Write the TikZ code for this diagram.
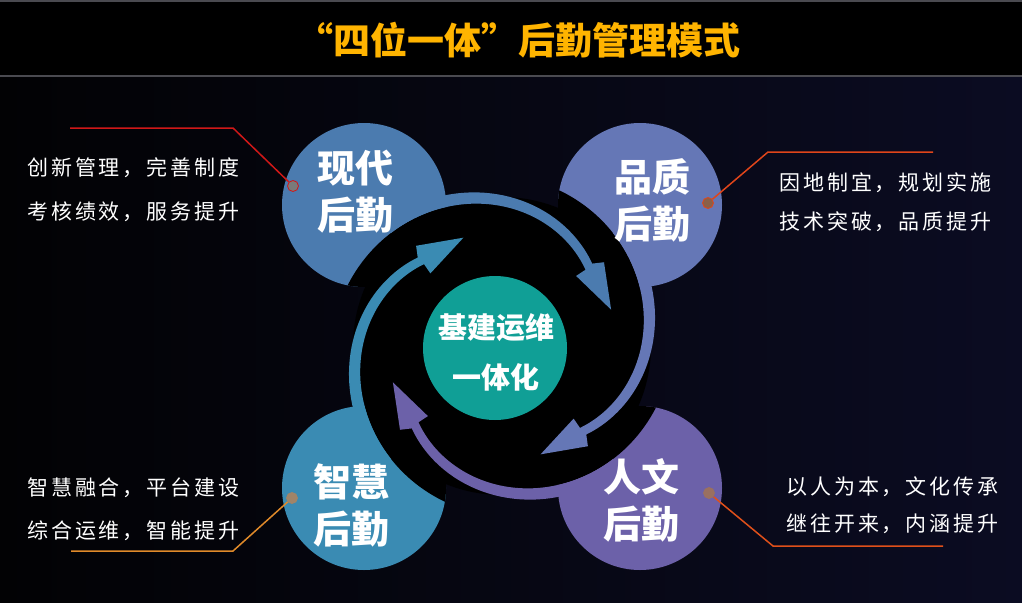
\documentclass[tikz,border=0pt]{standalone}
\usepackage{fontspec}
\newfontfamily\cjk{Noto Sans CJK SC}
\newfontfamily\cjkl{Noto Sans CJK SC}[LetterSpace=14]
\definecolor{bgl}{HTML}{020204}
\definecolor{bgr}{HTML}{0B0C22}
\definecolor{lineg}{HTML}{4A4A50}
\definecolor{ctitle}{HTML}{FFB400}
\definecolor{cxd}{HTML}{4B7BAF}
\definecolor{cpz}{HTML}{6577B6}
\definecolor{czh}{HTML}{3A8BB3}
\definecolor{crw}{HTML}{6C61A9}
\definecolor{cteal}{HTML}{109F96}
\definecolor{lxd}{HTML}{D01818}
\definecolor{lpz}{HTML}{E0451A}
\definecolor{lzh}{HTML}{E08A2A}
\definecolor{lrw}{HTML}{E0501A}
\definecolor{dxd}{HTML}{7A7A7A}
\definecolor{dpz}{HTML}{8A6048}
\definecolor{dzh}{HTML}{A08468}
\definecolor{drw}{HTML}{9A7060}
\newcommand\rin[1]{(158.4-0.348*(#1)-0.00157*(#1)*(#1))}
\newcommand\rout[1]{(\rin{#1}+12.8-0.04*(#1))}
\newcommand\armbite[1]{\fill[black] (502,346) -- plot[domain=-46:46,samples=50,variable=\p] ({502+\rin{\p}*cos((#1)-(\p))},{346-\rin{\p}*sin((#1)-(\p))}) -- cycle;}
\newcommand\armband[2]{\fill[#2] plot[domain=0:92,samples=50,variable=\p] ({502+\rout{\p}*cos((#1)-(\p))},{346-\rout{\p}*sin((#1)-(\p))})
 -- ({502+132*cos((#1)-95)},{346-132*sin((#1)-95)})
 -- ({502+115*cos((#1)-116)},{346-115*sin((#1)-116)})
 -- ({502+102*cos((#1)-91)},{346-102*sin((#1)-91)})
 -- plot[domain=92:0,samples=50,variable=\p] ({502+\rin{\p}*cos((#1)-(\p))},{346-\rin{\p}*sin((#1)-(\p))}) -- cycle;}
\tikzset{
 bubble/.style={circle, inner sep=0pt, minimum size=164pt},
 lab/.style={font=\cjk\bfseries\fontsize{38}{47}\selectfont, text=white, align=center, inner sep=0pt},
 desc/.style={font=\cjkl\fontsize{21}{24}\selectfont, text=white, anchor=west, inner sep=0pt},
 dot/.style={circle, inner sep=0pt, minimum size=11pt, line width=0.8pt},
 leader/.style={line width=1.5pt}
}
\begin{document}
\begin{tikzpicture}[x=1pt,y=-1pt]
\useasboundingbox (0,0) rectangle (1022,602);
\shade[left color=bgl, right color=bgr] (0,0) rectangle (1022,602);
\fill[black] (0,0) rectangle (1022,76);
\draw[lineg, line width=2pt] (0,1) -- (1022,1);
\draw[lineg, line width=2pt] (0,76) -- (1022,76);
\node[font=\cjk\bfseries\fontsize{37}{40}\selectfont, text=ctitle, inner sep=0pt] (title) at (518,40) {“四位一体”后勤管理模式};
% bubbles
\node[bubble, fill=cxd] (xd) at (364,205) {};
\node[bubble, fill=cpz] (pz) at (640,205) {};
\node[bubble, fill=czh] (zh) at (364,488) {};
\node[bubble, fill=crw] (rw) at (640,488) {};
% bites
\begin{scope}
\clip (364,205) circle[radius=82pt] (640,205) circle[radius=82pt]
      (364,488) circle[radius=82pt] (640,488) circle[radius=82pt]
      (502,346) circle[radius=149pt];
\armbite{134.4}
\armbite{45.6}
\armbite{-45.6}
\armbite{-134.4}
\end{scope}
% arrows
\armband{134.4}{cxd}
\armband{45.6}{cpz}
\armband{-45.6}{crw}
\armband{-134.4}{czh}
% core
\node[circle, inner sep=0pt, minimum size=144pt, fill=cteal] (core) at (495,348) {};
\node[font=\cjk\bfseries\fontsize{29}{50}\selectfont, text=white, align=center, inner sep=0pt] (coret) at (496,352) {基建运维\\一体化};
% labels
\node[lab] (xdt) at (355,191.5) {现代\\后勤};
\node[lab] (pzt) at (652,200.5) {品质\\后勤};
\node[lab] (zht) at (351,505) {智慧\\后勤};
\node[lab] (rwt) at (641,500.5) {人文\\后勤};
% descriptions
\node[desc] (d1a) at (27,168) {创新管理，完善制度};
\node[desc] (d1b) at (27,212) {考核绩效，服务提升};
\node[desc] (d2a) at (779,183) {因地制宜，规划实施};
\node[desc] (d2b) at (779,222) {技术突破，品质提升};
\node[desc] (d3a) at (27,488) {智慧融合，平台建设};
\node[desc] (d3b) at (27,531) {综合运维，智能提升};
\node[desc] (d4a) at (786,487) {以人为本，文化传承};
\node[desc] (d4b) at (786,524) {继往开来，内涵提升};
% leaders
\node[dot, fill=dxd, draw=lxd] (p1) at (293,186) {};
\node[dot, fill=dpz, draw=lpz] (p2) at (708,203) {};
\node[dot, fill=dzh, draw=dzh] (p3) at (292,498) {};
\node[dot, fill=drw, draw=drw] (p4) at (709,493) {};
\coordinate (p1a) at (233,128); \coordinate (p1b) at (70,128);
\coordinate (p2a) at (768,152); \coordinate (p2b) at (933,152);
\coordinate (p3a) at (233,551); \coordinate (p3b) at (71,551);
\coordinate (p4a) at (773,546); \coordinate (p4b) at (943,546);
\draw[leader, lxd] (p1) -- (p1a) -- (p1b);
\draw[leader, lpz] (p2) -- (p2a) -- (p2b);
\draw[leader, lzh] (p3) -- (p3a) -- (p3b);
\draw[leader, lrw] (p4) -- (p4a) -- (p4b);
\end{tikzpicture}
\end{document}
